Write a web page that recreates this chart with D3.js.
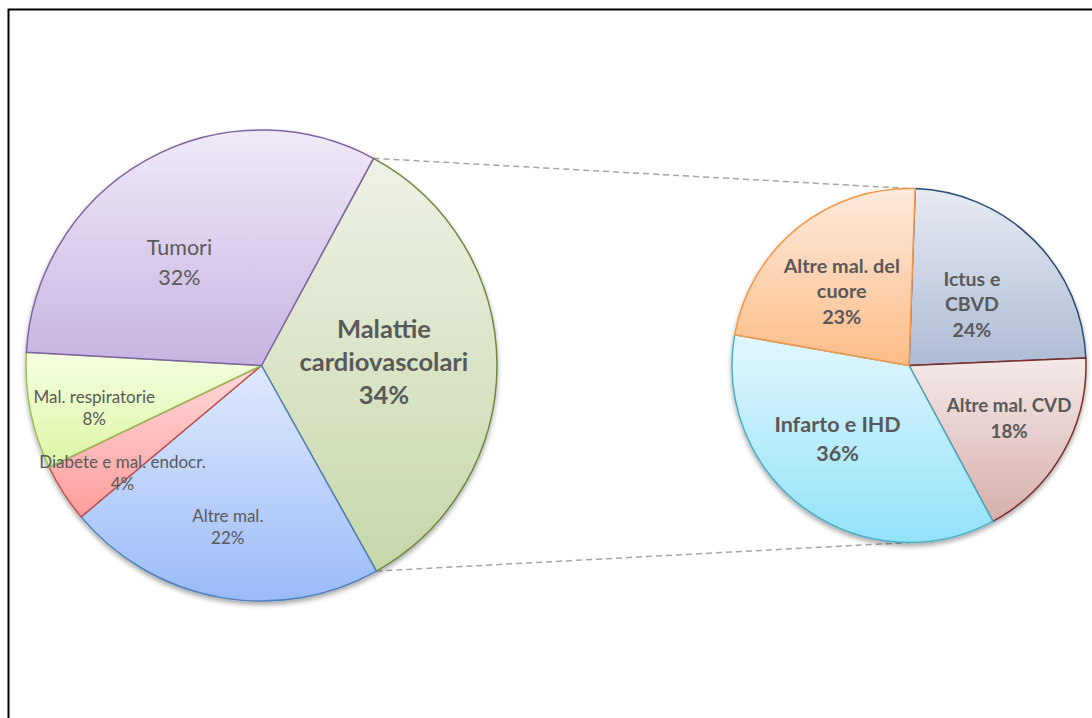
<!DOCTYPE html>
<html>
<head>
<meta charset="utf-8">
<script src="https://cdn.jsdelivr.net/npm/d3@7"></script>
<style>
  html, body { margin: 0; padding: 0; background: #fff; }
  svg { display: block; }
</style>
</head>
<body>
<svg id="chart" width="1092" height="718"></svg>
<script>
// Causes of death: overall split and the cardiovascular breakdown
const mainCategories = ["Malattie\ncardiovascolari", "Altre mal.", "Diabete e mal. endocr.", "Mal. respiratorie", "Tumori"];
const mainValues = [34, 22, 4, 8, 32];

const cvdCategories = ["Ictus e\nCBVD", "Altre mal. CVD", "Infarto e IHD", "Altre mal. del\ncuore"];
const cvdValues = [24, 18, 36, 23];

// Slice styling: gradient top, gradient bottom, outline
const mainColors = [
  ["#eef2e7", "#c6d7a9", "#6f873c"],
  ["#e0e9fd", "#9abbf8", "#4f81bd"],
  ["#ffdada", "#ff9c9c", "#c0504d"],
  ["#f4ffe0", "#ddf6a6", "#9bbb59"],
  ["#f0eaf8", "#c7b3e1", "#8064a2"]
];
const cvdColors = [
  ["#e7ebf3", "#aebbd4", "#2c4d75"],
  ["#f4eae9", "#d6afab", "#7f2e2b"],
  ["#e3f7fe", "#92e2f9", "#4bacc6"],
  ["#fdebdd", "#fcbc87", "#f79646"]
];

// Label styling per slice: font size, weight, line spacing, radius fraction, angular nudge (deg)
const mainLabelStyle = [
  { size: 25.5, weight: 700, lh: 33, rf: 0.52, da: -1.4 },
  { size: 17, weight: 400, lh: 21.5, rf: 0.70, da: 1.4 },
  { size: 17, weight: 400, lh: 21.5, rf: 0.746, da: -4.9 },
  { size: 17, weight: 400, lh: 21.5, rf: 0.733, da: -3.1 },
  { size: 21.5, weight: 400, lh: 29.5, rf: 0.56, da: -9.3 }
];
const cvdLabelStyle = [
  { size: 19.5, weight: 700, lh: 25.5, rf: 0.495, da: 1.1 },
  { size: 18.8, weight: 700, lh: 25.5, rf: 0.64, da: -1.7 },
  { size: 21.5, weight: 700, lh: 29, rf: 0.577, da: 8.5 },
  { size: 19.8, weight: 700, lh: 25.5, rf: 0.565, da: -3.3 }
];

const svg = d3.select("#chart");
const defs = svg.append("defs");
const rad = d => d * Math.PI / 180;

// soft drop shadow under each pie
const shadow = defs.append("filter").attr("id", "pieShadow")
  .attr("x", "-10%").attr("y", "-10%").attr("width", "120%").attr("height", "125%");
shadow.append("feGaussianBlur").attr("in", "SourceAlpha").attr("stdDeviation", 2.5).attr("result", "b");
shadow.append("feOffset").attr("in", "b").attr("dx", 0).attr("dy", 2.5).attr("result", "o");
shadow.append("feComponentTransfer").attr("in", "o").attr("result", "s")
  .append("feFuncA").attr("type", "linear").attr("slope", 0.35);
const merge = shadow.append("feMerge");
merge.append("feMergeNode").attr("in", "s");
merge.append("feMergeNode").attr("in", "SourceGraphic");

// outer frame
svg.append("rect")
  .attr("x", 8.5).attr("y", 9.5).attr("width", 1200).attr("height", 1000)
  .attr("fill", "none").attr("stroke", "#000").attr("stroke-width", 2);

const main = { cx: 261.5, cy: 365.5, r: 235.5, start: 28.4 };
const cvd = { cx: 909, cy: 365.5, r: 177, start: 2 };

function layoutPie(values, start) {
  return d3.pie().sort(null).value(d => d)
    .startAngle(rad(start)).endAngle(rad(start + 360))(values);
}

const mainArcs = layoutPie(mainValues, main.start);
const cvdArcs = layoutPie(cvdValues, cvd.start);

// connector lines from the cardiovascular slice to the detail pie (drawn beneath)
const cardio = mainArcs[0];
const ptOn = (p, a) => [p.cx + p.r * Math.sin(a), p.cy - p.r * Math.cos(a)];
const connectors = [
  [ptOn(main, cardio.startAngle), ptOn(cvd, 0)],
  [ptOn(main, cardio.endAngle), ptOn(cvd, Math.PI)]
];
svg.append("g").selectAll("line").data(connectors).join("line")
  .attr("x1", d => d[0][0]).attr("y1", d => d[0][1])
  .attr("x2", d => d[1][0]).attr("y2", d => d[1][1])
  .attr("stroke", "#a6a6a6").attr("stroke-width", 1.5)
  .attr("stroke-dasharray", "6,4");

function drawPie(p, arcs, categories, values, colors, styles, id) {
  const arc = d3.arc().innerRadius(0).outerRadius(p.r);
  colors.forEach((c, i) => {
    const g = defs.append("linearGradient").attr("id", `${id}-g${i}`)
      .attr("x1", 0).attr("y1", 0).attr("x2", 0).attr("y2", 1);
    g.append("stop").attr("offset", "0%").attr("stop-color", c[0]);
    g.append("stop").attr("offset", "100%").attr("stop-color", c[1]);
  });
  const g = svg.append("g").attr("transform", `translate(${p.cx},${p.cy})`);
  g.append("g").attr("filter", "url(#pieShadow)")
    .selectAll("path").data(arcs).join("path")
    .attr("d", arc)
    .attr("fill", (d, i) => `url(#${id}-g${i})`)
    .attr("stroke", (d, i) => colors[i][2])
    .attr("stroke-width", 1.5)
    .attr("stroke-linejoin", "round");

  const labels = g.append("g")
    .attr("font-family", "Lato, 'Open Sans', sans-serif")
    .attr("fill", "#595959")
    .attr("text-anchor", "middle");
  arcs.forEach((d, i) => {
    const s = styles[i];
    const a = (d.startAngle + d.endAngle) / 2 + rad(s.da);
    const x = s.rf * p.r * Math.sin(a);
    const y = -s.rf * p.r * Math.cos(a);
    const lines = categories[i].split("\n").concat([values[i] + "%"]);
    const t = labels.append("text")
      .attr("font-size", s.size).attr("font-weight", s.weight);
    lines.forEach((ln, j) => {
      t.append("tspan")
        .attr("x", x)
        .attr("y", y + (j - (lines.length - 1) / 2) * s.lh)
        .attr("dy", "0.35em")
        .text(ln);
    });
  });
}

drawPie(main, mainArcs, mainCategories, mainValues, mainColors, mainLabelStyle, "main");
drawPie(cvd, cvdArcs, cvdCategories, cvdValues, cvdColors, cvdLabelStyle, "cvd");
</script>
</body>
</html>
